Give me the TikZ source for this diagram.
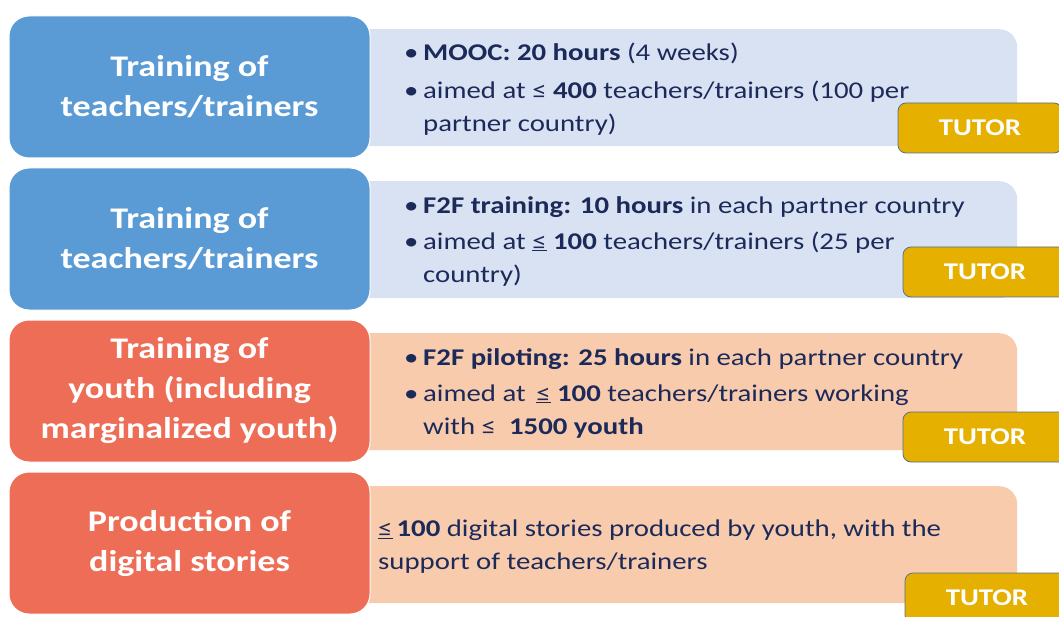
\documentclass[tikz,border=0pt]{standalone}
\usepackage{fontspec}
\setmainfont{Carlito}[FakeStretch=1.2]
\usepackage{xcolor}
\usepackage{tikz}

\definecolor{headblue}{HTML}{5B9BD5}
\definecolor{infoblue}{HTML}{D9E2F2}
\definecolor{headcoral}{HTML}{EE6D57}
\definecolor{infopeach}{HTML}{F8CBAD}
\definecolor{tutorgold}{HTML}{E6B000}
\definecolor{tutoredge}{HTML}{52708F}
\definecolor{navytext}{HTML}{1C2A5A}

\newcommand{\bl}{\makebox[19pt][l]{\textbullet}}
\newcommand{\ind}{\hspace*{19pt}}

\begin{document}
\begin{tikzpicture}[
    x=1pt, y=-1pt,
    head box/.style={rounded corners=20pt, draw=white, line width=1pt,
      minimum width=361pt, minimum height=142pt, align=center,
      text=white, font=\bfseries\fontsize{30}{40}\selectfont},
    info box/.style={rounded corners=18pt, anchor=north west,
      minimum width=672pt, minimum height=117pt},
    info text/.style={anchor=north west, inner sep=0pt, align=left,
      text=navytext, font=\fontsize{24}{33}\selectfont},
    tutor box/.style={rounded corners=8pt, fill=tutorgold, draw=tutoredge,
      line width=0.8pt, minimum width=164pt, minimum height=50pt,
      text=white, font=\bfseries\fontsize{24}{28}\selectfont}
    ]
\clip (0,0) rectangle (1059,617);

% row 1
\node[info box, fill=infoblue] (info1) at (345,29) {};
\node[head box, fill=headblue] (head1) at (189.5,87) {Training of\\teachers/trainers};
\node[info text] (text1) at (404,43) {\bl\textbf{MOOC: 20 hours} (4 weeks)\\[5pt]
  \bl aimed at ≤ \textbf{400} teachers/trainers (100 per\\
  \ind partner country)};
\node[tutor box] (tutor1) at (980,128) {TUTOR};

% row 2
\node[info box, fill=infoblue] (info2) at (345,181) {};
\node[head box, fill=headblue] (head2) at (189.5,239) {Training of\\teachers/trainers};
\node[info text] (text2) at (404,196) {\bl\textbf{F2F training: 10 hours} in each partner country\\[3pt]
  \bl aimed at \underline{≤} \textbf{100} teachers/trainers (25 per\\
  \ind country)};
\node[tutor box] (tutor2) at (985,272) {TUTOR};

% row 3
\node[info box, fill=infopeach] (info3) at (345,333) {};
\node[head box, fill=headcoral] (head3) at (189.5,391) {Training of\\youth (including\\marginalized youth)};
\node[info text] (text3) at (404,348) {\bl\textbf{F2F piloting: 25 hours} in each partner country\\[3pt]
  \bl aimed at \,\underline{≤} \textbf{100} teachers/trainers working\\
  \ind with ≤ \ \textbf{1500 youth}};
\node[tutor box] (tutor3) at (985,437) {TUTOR};

% row 4
\node[info box, fill=infopeach] (info4) at (345,486) {};
\node[head box, fill=headcoral] (head4) at (189.5,543) {Production of\\digital stories};
\node[info text] (text4) at (378,520) {\underline{≤}\,\textbf{100} digital stories produced by youth, with the\\
  support of teachers/trainers};
\node[tutor box] (tutor4) at (987,598) {TUTOR};
\end{tikzpicture}
\end{document}
